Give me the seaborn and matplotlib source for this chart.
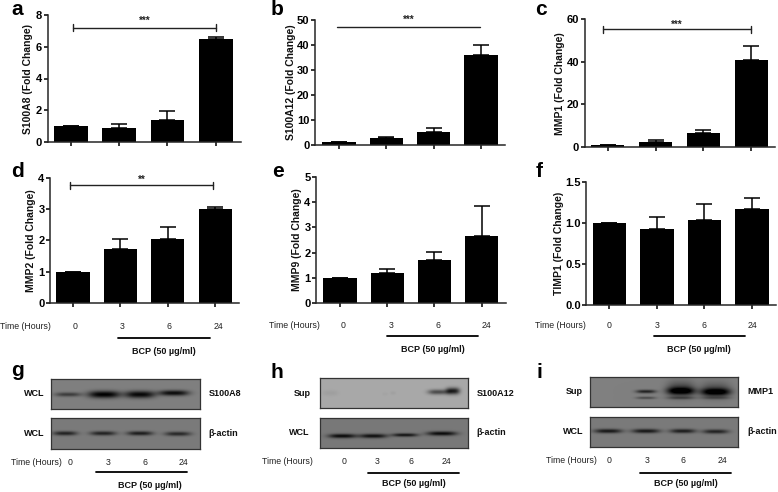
import numpy as np
import pandas as pd
import matplotlib
matplotlib.use("Agg")
import matplotlib.pyplot as plt
import seaborn as sns

W, H = 778, 492

sns.set_style("ticks")
plt.rcParams["font.family"] = ["Liberation Sans", "DejaVu Sans"]
plt.rcParams["axes.linewidth"] = 1.1

# ---- chart values -----------------------------------------------------------
TIMES = ["0", "3", "6", "24"]

S100A8_MEAN = [1.0, 0.88, 1.40, 6.50]
S100A8_TOP = [1.0, 1.12, 1.95, 6.60]
S100A12_MEAN = [1.0, 2.5, 5.2, 36.0]
S100A12_TOP = [1.2, 3.2, 6.8, 39.8]
MMP1_MEAN = [1.0, 2.5, 6.5, 41.0]
MMP1_TOP = [1.0, 3.5, 7.8, 47.5]
MMP2_MEAN = [1.0, 1.72, 2.04, 3.0]
MMP2_TOP = [1.0, 2.04, 2.43, 3.07]
MMP9_MEAN = [1.0, 1.18, 1.70, 2.65]
MMP9_TOP = [1.0, 1.36, 2.03, 3.87]
TIMP1_MEAN = [1.0, 0.93, 1.03, 1.17]
TIMP1_TOP = [1.0, 1.07, 1.23, 1.30]

# band darkness per lane (0 h, 3 h, 6 h, 24 h), read by eye off the blots
G_TOP_BANDS = [0.26, 0.50, 0.47, 0.45]
G_ACTIN_BANDS = [0.34, 0.34, 0.36, 0.32]
H_TOP_BANDS = [0.04, 0.0, 0.03, 0.36]
H_TOP_SMEAR = [0.02, 0.55]
H_ACTIN_BANDS = [0.42, 0.40, 0.38, 0.42]
I_TOP_BANDS = [0.0, 0.36, 0.42, 0.44]
I_TOP_LOWER = [0.0, 0.20, 0.18, 0.14]
I_TOP_HALO = [0.0, 0.0, 0.24, 0.20]
I_ACTIN_BANDS = [0.38, 0.38, 0.36, 0.34]

# ---- figure and overlay in pixel coordinates --------------------------------
fig = plt.figure(figsize=(W / 100, H / 100), dpi=100)
overlay = fig.add_axes([0, 0, 1, 1], zorder=5)
overlay.set_xlim(0, W)
overlay.set_ylim(H, 0)
overlay.axis("off")


def px_axes(left, top, right, bottom):
    return fig.add_axes([left / W, 1 - bottom / H, (right - left) / W, (bottom - top) / H])


def bar_panel(mean, top_val, ylabel, yticks, yticklabels, box, first, last, label_x):
    left, top, right, bottom = box
    ax = px_axes(left, top, right, bottom)
    df = pd.DataFrame({"time": TIMES, "fold": mean})
    sns.barplot(data=df, x="time", y="fold", color="black", saturation=1,
                width=0.7, errorbar=None, edgecolor="black", linewidth=0, ax=ax)
    upper = np.array(top_val) - np.array(mean)
    ax.errorbar(range(4), mean, yerr=[np.zeros(4), upper], fmt="none",
                ecolor="black", elinewidth=1.1, capsize=6, capthick=1.1)
    step = (last - first) / 3
    ax.set_xlim((left - first) / step, (right - first) / step)
    ax.set_ylim(yticks[0], yticks[-1])
    ax.set_yticks(yticks, yticklabels, fontsize=8, fontweight="bold")
    ax.set_xticks(range(4), [""] * 4)
    ax.tick_params(length=3, width=1.1, pad=1, colors="black")
    ax.set_xlabel("")
    ax.set_ylabel(ylabel, fontsize=7.45, fontweight="bold", color="#111111", va="center")
    ax.yaxis.set_label_coords((label_x - left) / (right - left), 0.5)
    sns.despine(ax=ax)
    return ax


def bracket(x0, x1, y, stars, star_x, star_y, caps=True):
    overlay.plot([x0, x1], [y, y], color="#222222", lw=1.0)
    if caps:
        for x in (x0, x1):
            overlay.plot([x, x], [y - 3.5, y + 3.5], color="#222222", lw=1.0)
    overlay.text(star_x, star_y, stars, ha="center", va="center", fontsize=7,
                 fontweight="bold", color="#222222")


def time_row(time_x, ticks, y, line, line_y, bcp_x, bcp_y):
    overlay.text(time_x, y, "Time (Hours)", ha="center", va="center", fontsize=6.3,
                 color="#222222")
    for x, t in zip(ticks, TIMES):
        overlay.text(x, y, t, ha="center", va="center", fontsize=6.3, color="#222222")
    overlay.plot(line, [line_y, line_y], color="black", lw=1.3)
    overlay.text(bcp_x, bcp_y, "BCP (50 µg/ml)", ha="center", va="center", fontsize=6.5,
                 fontweight="bold", color="#111111")


def blot(box, bands, centers, rows, widths, heights, bg, label, label_x, name, name_x):
    left, top, right, bottom = box
    ax = px_axes(left, top, right, bottom)
    nx, ny = int((right - left) * 2), int((bottom - top) * 2)
    xx, yy = np.meshgrid(np.linspace(left, right, nx), np.linspace(top, bottom, ny))
    img = np.full(xx.shape, bg, dtype=float)
    for s, cx, cy, wx, wy in zip(bands, centers, rows, widths, heights):
        img -= s * np.exp(-np.abs((xx - cx) / wx) ** 3) * np.exp(-((yy - cy) / wy) ** 2)
    sns.heatmap(np.clip(img, 0, 1), cmap="gray", vmin=0, vmax=1, cbar=False,
                xticklabels=False, yticklabels=False, rasterized=True, ax=ax)
    for spine in ax.spines.values():
        spine.set_visible(True)
        spine.set_color("#333333")
        spine.set_linewidth(0.9)
    mid = (top + bottom) / 2
    overlay.text(label_x, mid, label, ha="center", va="center", fontsize=6.5,
                 fontweight="bold", color="#111111")
    overlay.text(name_x, mid, name, ha="left", va="center", fontsize=6.5,
                 fontweight="bold", color="#111111")


# ---- bar panels -------------------------------------------------------------
bar_panel(S100A8_MEAN, S100A8_TOP, "S100A8 (Fold Change)", [0, 2, 4, 6, 8],
          ["0", "2", "4", "6", "8"], (47.7, 14.7, 240.7, 142.3), 71, 215.7, 27.7)
bar_panel(S100A12_MEAN, S100A12_TOP, "S100A12 (Fold Change)", [0, 10, 20, 30, 40, 50],
          ["0", "10", "20", "30", "40", "50"], (315, 20, 505, 144.7), 339, 481, 291)
bar_panel(MMP1_MEAN, MMP1_TOP, "MMP1 (Fold Change)", [0, 20, 40, 60],
          ["0", "20", "40", "60"], (584.7, 19.3, 775.3, 147), 607.7, 751.3, 559.7)
bar_panel(MMP2_MEAN, MMP2_TOP, "MMP2 (Fold Change)", [0, 1, 2, 3, 4],
          ["0", "1", "2", "3", "4"], (50, 177.7, 239.3, 303), 73, 215.3, 30.7)
bar_panel(MMP9_MEAN, MMP9_TOP, "MMP9 (Fold Change)", [0, 1, 2, 3, 4, 5],
          ["0", "1", "2", "3", "4", "5"], (316, 177.3, 505.7, 302.7), 340, 481.7, 297.3)
bar_panel(TIMP1_MEAN, TIMP1_TOP, "TIMP1 (Fold Change)", [0, 0.5, 1.0, 1.5],
          ["0.0", "0.5", "1.0", "1.5"], (586.3, 181.7, 776.3, 305), 609.3, 752, 559)

bracket(73.3, 216, 27.7, "***", 145, 20.5)
bracket(337, 480, 27.3, "***", 408.3, 19.5, caps=False)
bracket(602.7, 751.3, 29, "***", 677, 24.5)
bracket(69.7, 213.3, 185, "**", 141.7, 180)

time_row(25, [75, 122, 169, 218], 326.7, [118, 210], 338, 164, 351.7)
time_row(294, [343, 390.7, 437.7, 486.7], 325.7, [387, 478], 336.3, 432.7, 350)
time_row(560.3, [609, 657, 703.7, 752.3], 325.7, [653.7, 744.7], 336.3, 699, 350)

# ---- blots ------------------------------------------------------------------
blot((50.7, 378.7, 199.7, 409.3), G_TOP_BANDS, [68, 104, 140, 174], [394.5, 394.5, 394.5, 393],
     [13, 16, 15, 15], [2.2, 3.6, 3.6, 2.8], 0.50, "WCL", 34.3, "S100A8", 208.7)
blot((50.7, 418.3, 199.7, 449), G_ACTIN_BANDS, [65, 103, 140, 178], [433.5, 433.5, 433.5, 434],
     [12, 13, 13, 13], [2.2, 2.2, 2.2, 2.2], 0.48, "WCL", 34.3, "β-actin", 208.7)
blot((320, 377.7, 468.3, 408.3), H_TOP_BANDS + H_TOP_SMEAR,
     [330, 350, 393, 438, 385, 453], [393, 393, 393, 392, 394, 391],
     [8, 8, 3, 10, 3, 7], [3, 3, 2, 2.6, 2, 3.4], 0.66, "Sup", 302.3, "S100A12", 476.7)
blot((320, 417.7, 468.3, 447.7), H_ACTIN_BANDS, [342, 373, 405, 442], [436, 436, 435, 433.5],
     [14, 14, 13, 15], [2.2, 2.2, 1.8, 2.2], 0.47, "WCL", 299, "β-actin", 476.7)
blot((589.7, 376.7, 738, 407.3), I_TOP_BANDS + I_TOP_LOWER + I_TOP_HALO,
     [608, 646, 681, 716] * 3,
     [391, 391.5, 391, 392, 398, 398, 398, 398, 390, 390, 389, 390],
     [12, 10, 14, 15] * 3,
     [2, 1.8, 3.6, 3.6, 1.4, 1.4, 1.6, 1.6, 5, 5, 8, 8], 0.50, "Sup", 574.7, "MMP1", 747.3)
blot((589.7, 416.7, 738, 446.7), I_ACTIN_BANDS, [608, 646, 683, 716], [431, 431, 431, 431.5],
     [14, 14, 13, 13], [2.2, 2.2, 2.2, 2.2], 0.48, "WCL", 573, "β-actin", 747.3)

time_row(36.7, [70, 108, 144.7, 183.3], 462.7, [95.7, 187], 472.3, 150, 486)
time_row(287, [343.7, 377.3, 410.7, 446.7], 461.7, [368.3, 459.3], 473.3, 413.7, 483.7)
time_row(571.3, [608.7, 646.7, 683.3, 722], 460.7, [640, 731.3], 473.3, 685.7, 483.7)

# ---- panel letters ----------------------------------------------------------
for letter, x, y in [("a", 11, 15), ("b", 271, 15), ("c", 534.7, 15),
                     ("d", 10.7, 177), ("e", 271.7, 177.3), ("f", 535.3, 176.7),
                     ("g", 10.7, 376), ("h", 271, 378), ("i", 537, 378)]:
    overlay.text(x, y, letter, ha="left", va="baseline", fontsize=15, fontweight="bold",
                 color="black")

fig.savefig("out.png", dpi=100)
